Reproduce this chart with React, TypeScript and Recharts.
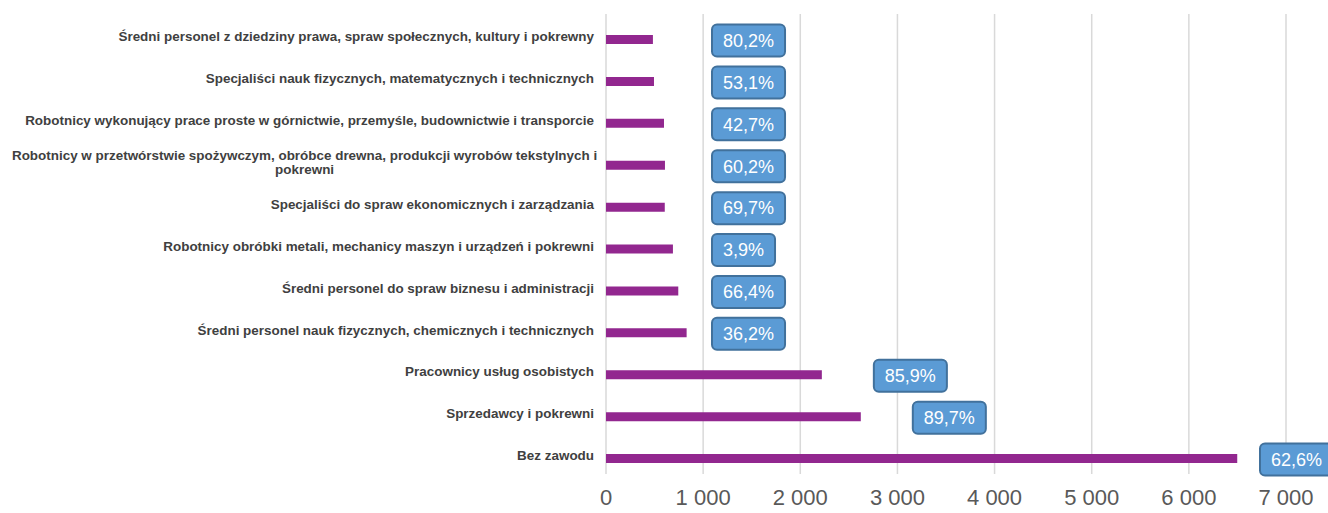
import React from 'react';
import { BarChart, Bar, XAxis, YAxis, CartesianGrid, LabelList } from 'recharts';

const categories: string[] = [
  'Średni personel z dziedziny prawa, spraw społecznych, kultury i pokrewny',
  'Specjaliści nauk fizycznych, matematycznych i technicznych',
  'Robotnicy wykonujący prace proste w górnictwie, przemyśle, budownictwie i transporcie',
  'Robotnicy w przetwórstwie spożywczym, obróbce drewna, produkcji wyrobów tekstylnych i pokrewni',
  'Specjaliści do spraw ekonomicznych i zarządzania',
  'Robotnicy obróbki metali, mechanicy maszyn i urządzeń i pokrewni',
  'Średni personel do spraw biznesu i administracji',
  'Średni personel nauk fizycznych, chemicznych i technicznych',
  'Pracownicy usług osobistych',
  'Sprzedawcy i pokrewni',
  'Bez zawodu',
];

const values: number[] = [483, 494, 597, 607, 605, 689, 744, 830, 2222, 2623, 6498];

const shares: string[] = ['80,2%', '53,1%', '42,7%', '60,2%', '69,7%', '3,9%', '66,4%', '36,2%', '85,9%', '89,7%', '62,6%'];

const xTicks: number[] = [0, 1000, 2000, 3000, 4000, 5000, 6000, 7000];

const data = categories.map((name, i) => ({ name, value: values[i], share: shares[i] }));

const fmt = (v: number) => {
  const s = String(Math.round(v));
  return s.replace(/\B(?=(\d{3})+(?!\d))/g, ' ');
};

const splitLabel = (s: string, limit = 88): string[] => {
  if (s.length <= limit) return [s];
  const idx = s.lastIndexOf(' ', limit);
  return [s.slice(0, idx), s.slice(idx + 1)];
};

const LABEL_FONT = 12;
const LABEL_SCALE = 1.12;

const YTick = (props: any) => {
  const { x, y, payload } = props;
  const lines = splitLabel(payload.value);
  const lh = 14;
  const startDy = -((lines.length - 1) * lh) / 2 - 3;
  const style = { fontFamily: 'Liberation Sans, Arial, sans-serif', fontSize: LABEL_FONT, fontWeight: 'bold' as const };
  if (lines.length === 1) {
    return (
      <g transform={`translate(${x - 4}, ${y + startDy}) scale(${LABEL_SCALE}, 1)`}>
        <text x={0} y={0} dy="0.35em" textAnchor="end" fill="#404040" style={style}>
          {lines[0]}
        </text>
      </g>
    );
  }
  const approxW = (lines[0].length * 6.81) / LABEL_SCALE;
  const cx = -approxW / 2;
  return (
    <g transform={`translate(${x - 4}, ${y + startDy}) scale(${LABEL_SCALE}, 1)`}>
      <text x={cx} y={0} textAnchor="middle" fill="#404040" style={style}>
        {lines.map((l, i) => (
          <tspan key={i} x={cx} dy={i === 0 ? '0.35em' : lh}>{l}</tspan>
        ))}
      </text>
    </g>
  );
};

const XTick = (props: any) => {
  const { x, y, payload } = props;
  return (
    <text x={x} y={y + 17} textAnchor="middle" fill="#595959"
      style={{ fontFamily: 'Liberation Sans, Arial, sans-serif', fontSize: 22 }}>
      {fmt(payload.value)}
    </text>
  );
};

const Callout = (props: any) => {
  const { x, y, width, height, value } = props;
  const fs = 18;
  const str = String(value);
  let tw = 0;
  for (const ch of str) {
    if (ch === ',') tw += 0.278;
    else if (ch === '%') tw += 0.889;
    else tw += 0.556;
  }
  const textW = tw * fs;
  const boxW = textW + 22;
  const boxH = 32;
  const barEnd = x + width;
  const left = width > 150 ? Math.min(barEnd + 52, 1260) : x + 106;
  const cy = y + height / 2 + 1;
  return (
    <g>
      <rect x={left} y={cy - boxH / 2} width={boxW} height={boxH} rx={5} ry={5}
        fill="#5b9bd5" stroke="#41719c" strokeWidth={2} />
      <text x={left + boxW / 2} y={cy} dy="0.35em" textAnchor="middle" fill="#ffffff"
        style={{ fontFamily: 'Liberation Sans, Arial, sans-serif', fontSize: fs }}>
        {str}
      </text>
    </g>
  );
};

export default function App() {
  return (
    <div style={{ position: 'absolute', left: 0, top: 0, width: 1328, height: 513, background: '#ffffff' }}>
      <BarChart
        width={1328}
        height={513}
        data={data}
        layout="vertical"
        margin={{ top: 19, right: 42, bottom: 0, left: 0 }}
      >
        <CartesianGrid horizontal={false} vertical={true} y={14} height={460} stroke="#d9d9d9" strokeWidth={1.5} />
        <XAxis type="number" domain={[0, 7000]} ticks={xTicks} axisLine={false} tickLine={false}
          height={33} tick={<XTick />} interval={0} />
        <YAxis type="category" dataKey="name" width={606} axisLine={false} tickLine={false}
          tick={<YTick />} interval={0} />
        <Bar dataKey="value" fill="#92278f" barSize={9} isAnimationActive={false}>
          <LabelList dataKey="share" content={<Callout />} />
        </Bar>
      </BarChart>
    </div>
  );
}
